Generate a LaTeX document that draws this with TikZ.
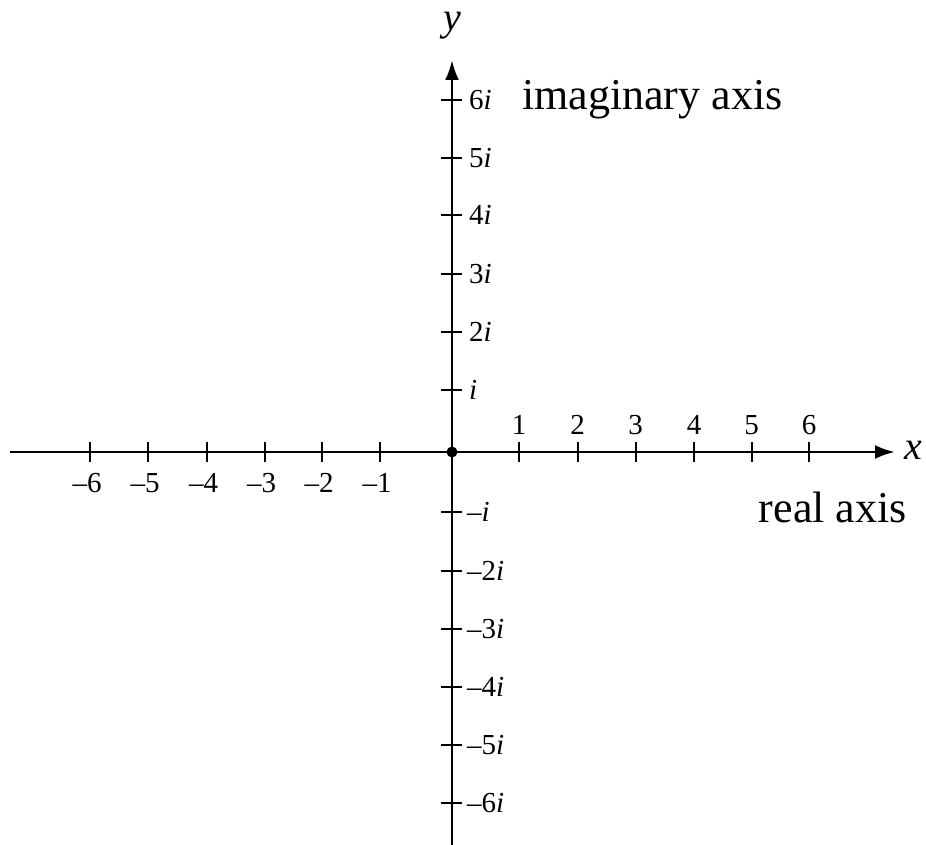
\documentclass[tikz,border=0pt]{standalone}
\usepackage{fontspec}
\setmainfont{Liberation Serif}
\usetikzlibrary{arrows.meta}
\begin{document}
\begin{tikzpicture}[x=1pt,y=-1pt,
  axisline/.style={line width=2.8pt,-{Latex[length=20pt,width=14pt]}},
  tickmark/.style={line width=2pt},
  ticklab/.style={font=\fontsize{29}{33}\selectfont,inner sep=0pt},
  axlab/.style={font=\fontsize{44}{50}\selectfont,inner sep=0pt},
  varlab/.style={font=\fontsize{40}{46}\selectfont\itshape,inner sep=0pt}]
\useasboundingbox (0,0) rectangle (926,845);
\coordinate (xl) at (10,452);
\coordinate (xr) at (895,452);
\coordinate (yb) at (452,845);
\coordinate (yt) at (452,60);
\coordinate (o) at (452,452);
\draw[axisline] (xl) -- (xr);
\draw[axisline] (yb) -- (yt);
\fill (o) circle (5.5);
% x ticks
\foreach \n/\p in {6/90,5/148,4/206.5,3/264.5,2/322,1/380}{
  \draw[tickmark] (\p,442) -- (\p,462);
  \node[ticklab] (xn\n) at (\p-3,483) {\textendash\n};
}
\foreach \v/\p in {1/519,2/577.5,3/635.5,4/694,5/751.5,6/809}{
  \draw[tickmark] (\p,442) -- (\p,462);
  \node[ticklab] (xp\v) at (\p,425) {\v};
}
% y ticks
\foreach \n/\p/\t in {6/100/6\textit{i},5/158/5\textit{i},4/215/4\textit{i},3/274/3\textit{i},2/331.5/2\textit{i},1/390/\textit{i}}{
  \draw[tickmark] (441,\p) -- (462,\p);
  \node[ticklab,anchor=west] (yp\n) at (469,\p) {\t};
}
\foreach \n/\p/\t in {1/512/\textendash\textit{i},2/571/\textendash2\textit{i},3/629/\textendash3\textit{i},4/687/\textendash4\textit{i},5/745/\textendash5\textit{i},6/803/\textendash6\textit{i}}{
  \draw[tickmark] (441,\p) -- (462,\p);
  \node[ticklab,anchor=west] (yn\n) at (467,\p) {\t};
}
\node[varlab] (xlab) at (913,450) {x};
\node[varlab] (ylab) at (452,26) {y};
\node[axlab,anchor=base west] (imag) at (522,110) {imaginary axis};
\node[axlab,anchor=base east] (real) at (907,522) {real axis};
\end{tikzpicture}
\end{document}
